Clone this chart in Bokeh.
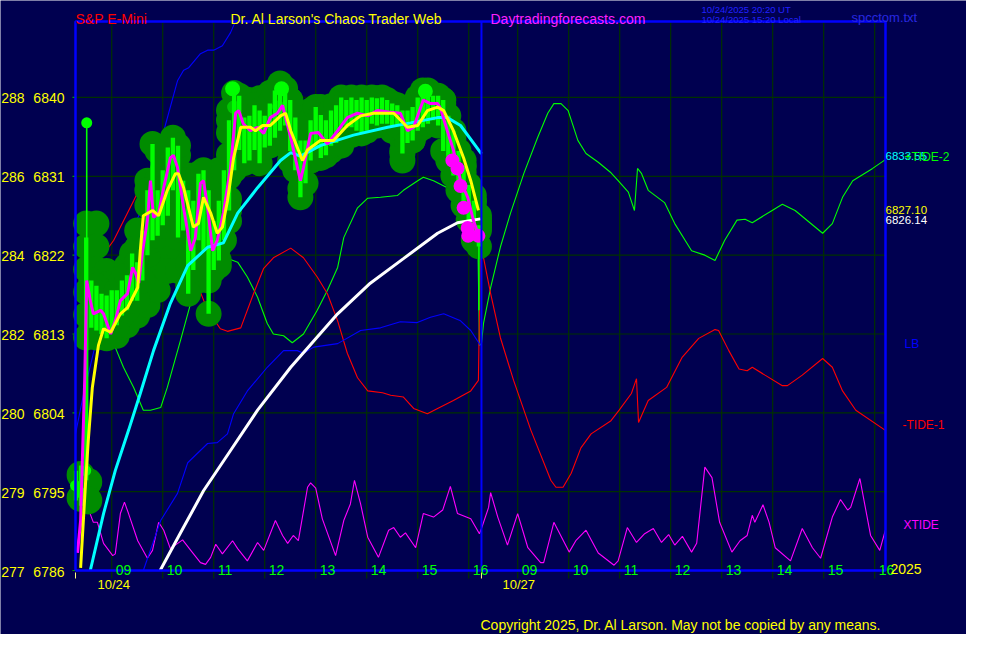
import numpy as np
from bokeh.plotting import figure
from bokeh.models import Range1d
from bokeh.embed import file_html
from bokeh.resources import INLINE
from bokeh.core.properties import value

# ---------------- data ----------------
price_levels = [6840, 6831, 6822, 6813, 6804, 6795, 6786]
alt_levels = ["288", "286", "284", "282", "280", "279", "277"]
hour_ticks = [9, 10, 11, 12, 13, 14, 15, 16]
hour_labels = ["09", "10", "11", "12", "13", "14", "15", "16"]
day_names = ["10/24", "10/27"]
year_label = "2025"
session_open = 8.29
session_close = 16.25
stamp_ut = "10/24/2025 20:20  UT"
stamp_local = "10/24/2025 15:20  Local"

# price bars (day 1), hours / high / low
bar_t = [8.3, 8.4, 8.5, 8.6, 8.7, 8.8, 8.9, 9.0, 9.1, 9.2, 9.3, 9.4, 9.5, 9.6, 9.7, 9.8, 9.9,
         10.0, 10.1, 10.2, 10.3, 10.4, 10.5, 10.6, 10.7, 10.8, 10.9, 11.0, 11.1, 11.2, 11.3, 11.4,
         11.5, 11.6, 11.7, 11.8, 11.9, 12.0, 12.1, 12.2, 12.3, 12.4, 12.5, 12.6, 12.7, 12.8, 12.9,
         13.0, 13.1, 13.2, 13.3, 13.4, 13.5, 13.6, 13.7, 13.8, 13.9, 14.0, 14.1, 14.2, 14.3, 14.4,
         14.5, 14.6, 14.7, 14.8, 14.9, 15.0, 15.1, 15.2, 15.3, 15.4, 15.5, 15.6, 15.7, 15.8, 15.9,
         16.0, 16.1, 16.2]
bar_hi = [6797.4, 6798.0, 6824.0, 6819.1, 6818.5, 6817.6, 6817.4, 6818.0, 6818.0, 6819.1, 6819.7,
          6822.2, 6821.2, 6824.8, 6829.4, 6834.7, 6829.4, 6831.7, 6834.3, 6835.4, 6834.5, 6830.5,
          6829.4, 6828.2, 6831.3, 6831.7, 6829.4, 6825.9, 6828.2, 6831.7, 6837.4, 6840.5, 6840.2,
          6837.7, 6837.9, 6839.1, 6838.5, 6837.9, 6839.3, 6840.8, 6841.6, 6841.0, 6839.7, 6837.7,
          6835.1, 6835.1, 6837.4, 6838.9, 6838.0, 6837.4, 6838.5, 6839.1, 6840.0, 6839.7, 6840.0,
          6839.7, 6840.0, 6839.7, 6840.0, 6839.9, 6840.0, 6839.7, 6839.3, 6839.1, 6838.5, 6838.5,
          6838.9, 6840.0, 6840.8, 6840.8, 6840.2, 6840.2, 6839.7, 6837.9, 6836.2, 6833.9, 6832.2,
          6830.0, 6828.2, 6825.4]
bar_lo = [6794.0, 6793.4, 6796.3, 6813.7, 6813.4, 6813.0, 6812.5, 6813.4, 6814.0, 6815.1, 6815.7,
          6816.8, 6816.8, 6819.1, 6822.0, 6823.7, 6824.2, 6825.4, 6826.5, 6829.4, 6824.0, 6824.8,
          6817.6, 6820.3, 6823.7, 6822.5, 6815.3, 6820.3, 6821.4, 6823.7, 6827.1, 6831.7, 6834.0,
          6832.5, 6832.8, 6834.0, 6832.5, 6834.3, 6834.5, 6835.4, 6836.2, 6836.8, 6833.9, 6831.7,
          6828.6, 6830.2, 6832.8, 6834.3, 6833.1, 6833.4, 6834.5, 6834.8, 6836.2, 6836.5, 6836.6,
          6836.2, 6835.9, 6836.2, 6837.0, 6836.8, 6837.0, 6837.0, 6836.8, 6836.8, 6833.6, 6834.8,
          6835.1, 6836.2, 6836.6, 6837.0, 6837.4, 6836.8, 6833.9, 6832.8, 6831.1, 6829.4, 6827.7,
          6826.0, 6823.7, 6823.0]
spike_t = [8.51, 16.2]
spike_hi = [6837.1, 6824.0]
spike_lo = [6797.0, 6815.7]

# dark green price envelope (centres of the upper and lower rows of discs)
band_t = [8.5, 8.7, 8.9, 9.1, 9.3, 9.5, 9.7, 9.9, 10.1, 10.3, 10.5, 10.7, 10.9, 11.1, 11.3, 11.5,
          11.7, 11.9, 12.1, 12.3, 12.5, 12.7, 12.9, 13.1, 13.3, 13.5, 13.7, 13.9, 14.1, 14.3, 14.5,
          14.7, 14.9, 15.1, 15.3, 15.5, 15.7, 15.9, 16.1, 16.2]
band_top = [6825.6, 6825.6, 6820.2, 6819.1, 6820.8, 6824.8, 6830.5, 6833.9, 6834.2, 6833.4, 6831.1,
            6831.1, 6831.1, 6831.7, 6838.5, 6839.7, 6839.7, 6839.9, 6840.5, 6840.8, 6839.7, 6837.4,
            6838.5, 6838.9, 6839.0, 6839.0, 6839.0, 6839.0, 6839.0, 6839.0, 6838.7, 6838.5, 6839.1,
            6840.1, 6840.1, 6839.7, 6835.9, 6832.8, 6828.8, 6826.5]
band_bot = [6812.6, 6812.6, 6812.6, 6812.8, 6814.0, 6815.1, 6816.3, 6818.0, 6820.2, 6820.2, 6818.5,
            6819.1, 6819.1, 6820.8, 6825.9, 6832.8, 6833.4, 6833.9, 6835.1, 6835.4, 6832.8, 6829.6,
            6832.8, 6833.4, 6833.9, 6834.5, 6835.7, 6836.8, 6837.4, 6837.4, 6836.2, 6832.8, 6835.1,
            6837.4, 6838.1, 6837.4, 6832.8, 6829.4, 6825.4, 6824.8]
open_t = [8.39, 8.54, 8.39, 8.54]
open_v = [6796.9, 6796.1, 6794.3, 6794.0]
bright_t = [11.37, 12.33, 15.15]
bright_v = [6841.0, 6841.0, 6840.7]
tick_dot_t = [8.51, 8.29, 8.49, 8.39]
tick_dot_v = [6837.1, 6795.7, 6797.4, 6794.9]
midg_t = [11.39, 12.27, 15.11]
midg_v = [6838.9, 6838.9, 6839.0]

# averages (day 1)
mag_t = [8.33, 8.39, 8.47, 8.51, 8.58, 8.64, 8.78, 8.84, 8.98, 9.07, 9.17, 9.31, 9.41, 9.47, 9.53,
         9.60, 9.70, 9.76, 9.82, 9.92, 10.02, 10.15, 10.21, 10.29, 10.41, 10.55, 10.64, 10.74,
         10.80, 10.88, 10.98, 11.07, 11.19, 11.33, 11.43, 11.49, 11.58, 11.72, 11.86, 11.98, 12.11,
         12.25, 12.35, 12.51, 12.70, 12.76, 12.90, 13.05, 13.23, 13.43, 13.62, 13.82, 14.02, 14.21,
         14.47, 14.66, 14.80, 14.92, 15.11, 15.25, 15.39, 15.45, 15.58, 15.70, 15.84, 15.98, 16.09,
         16.19]
mag_v = [6788.0, 6791.7, 6807.7, 6819.1, 6816.8, 6815.3, 6815.7, 6815.3, 6813.0, 6814.5, 6816.8,
         6817.6, 6820.6, 6819.9, 6818.8, 6822.2, 6826.0, 6830.5, 6826.3, 6826.8, 6829.7, 6833.1,
         6833.4, 6832.0, 6827.4, 6822.5, 6824.0, 6830.2, 6830.5, 6827.4, 6822.5, 6823.7, 6826.8,
         6832.0, 6838.2, 6838.5, 6837.0, 6836.2, 6836.6, 6835.9, 6837.7, 6838.2, 6839.1, 6835.4,
         6830.5, 6832.0, 6835.9, 6836.0, 6834.7, 6836.2, 6837.7, 6838.2, 6837.9, 6838.5, 6838.3,
         6838.2, 6836.2, 6836.6, 6839.7, 6839.3, 6839.3, 6838.7, 6836.2, 6834.0, 6830.5, 6828.6,
         6826.0, 6824.3]
dot_t = [15.68, 15.78, 15.84, 15.90, 15.98, 15.99, 16.19]
dot_v = [6832.8, 6831.9, 6829.9, 6827.4, 6825.1, 6824.2, 6824.2]
yel_t = [8.39, 8.49, 8.54, 8.62, 8.74, 8.84, 8.98, 9.17, 9.31, 9.51, 9.56, 9.62, 9.80, 9.92, 10.09,
         10.25, 10.31, 10.41, 10.60, 10.70, 10.80, 10.94, 11.07, 11.17, 11.27, 11.39, 11.53, 11.72,
         11.82, 11.96, 12.11, 12.31, 12.41, 12.51, 12.74, 12.84, 13.09, 13.35, 13.62, 13.88, 14.13,
         14.53, 14.80, 15.00, 15.19, 15.39, 15.51, 15.70, 15.90, 16.04, 16.19]
yel_v = [6786.3, 6796.3, 6800.8, 6806.9, 6811.7, 6813.6, 6813.2, 6815.3, 6816.0, 6818.3, 6822.5,
         6826.5, 6827.1, 6826.5, 6829.4, 6831.3, 6831.3, 6829.7, 6825.2, 6825.6, 6828.6, 6826.8,
         6824.5, 6825.2, 6828.2, 6833.1, 6836.6, 6836.6, 6836.2, 6836.8, 6836.8, 6837.9, 6838.2,
         6836.2, 6832.8, 6834.0, 6835.1, 6835.1, 6836.8, 6837.9, 6838.2, 6838.2, 6836.6, 6836.8,
         6838.5, 6838.9, 6838.5, 6836.2, 6833.1, 6830.5, 6827.10]
cyan_t = [8.58, 8.84, 9.07, 9.33, 9.56, 9.82, 10.15, 10.49, 10.88, 11.19, 11.47, 11.86, 12.31,
          12.51, 12.70, 13.09, 13.74, 14.41, 14.86, 15.39, 15.58, 15.84, 16.25]
cyan_v = [6786.0, 6792.5, 6797.4, 6802.0, 6806.2, 6811.1, 6816.5, 6820.8, 6822.9, 6823.4, 6826.8,
          6829.7, 6832.8, 6833.7, 6833.3, 6834.5, 6835.7, 6836.6, 6837.1, 6837.7, 6837.7, 6836.8,
          6833.55]
white_t = [9.95, 10.35, 10.80, 11.33, 11.86, 12.51, 13.43, 14.07, 14.72, 15.39, 15.78, 16.23]
white_v = [6786.0, 6790.3, 6795.1, 6799.7, 6804.3, 6809.2, 6815.3, 6818.8, 6821.6, 6824.5, 6825.7,
           6826.14]
blue_t = [8.29, 8.45, 8.92, 9.31, 9.76, 10.05, 10.29, 10.41, 10.51, 10.74, 10.88, 11.00, 11.17,
          11.33, 11.42]
blue_v = [6801.6, 6806.2, 6817.6, 6823.7, 6829.4, 6836.8, 6841.9, 6843.1, 6843.4, 6845.0, 6845.4,
          6845.4, 6845.9, 6847.4, 6848.6]
lb_t = [9.62, 9.96, 10.29, 10.49, 10.88, 11.07, 11.27, 11.39, 11.66, 12.05, 12.37, 12.64, 12.76,
        12.96, 13.43, 13.88, 14.27, 14.66, 14.99, 15.25, 15.51, 15.84, 16.04, 16.23]
lb_v = [6786.0, 6791.7, 6794.8, 6798.3, 6800.5, 6800.6, 6801.6, 6803.9, 6806.5, 6809.2, 6811.1,
        6811.1, 6810.8, 6811.5, 6811.9, 6813.4, 6813.7, 6814.4, 6814.3, 6814.9, 6815.3, 6814.5,
        6813.4, 6811.7]

# tides, day 1 (10/24) and day 2 (10/27), clock hours
green_t1 = [8.29, 8.58, 8.84, 9.04, 9.23, 9.43, 9.62, 9.76, 9.96, 10.09, 10.35, 10.60, 10.88, 11.07,
            11.29, 11.47, 11.66, 11.86, 12.05, 12.17, 12.37, 12.54, 12.76, 13.03, 13.23, 13.43,
            13.55, 13.82, 14.02, 14.27, 14.60, 14.72, 15.00, 15.11, 15.31, 15.58, 15.84, 16.04,
            16.17, 16.21]
green_v1 = [6817.4, 6815.3, 6813.7, 6811.9, 6809.2, 6806.9, 6804.3, 6804.3, 6804.6, 6806.9, 6812.3,
            6817.6, 6819.9, 6821.0, 6821.6, 6821.2, 6819.5, 6817.2, 6814.2, 6813.0, 6812.8, 6812.0,
            6813.0, 6815.7, 6818.0, 6820.6, 6824.0, 6827.4, 6828.5, 6828.6, 6828.8, 6829.4, 6830.5,
            6830.9, 6830.5, 6829.7, 6829.0, 6828.2, 6827.1, 6811.7]
green_t2 = [8.29, 8.33, 8.47, 8.66, 8.86, 9.12, 9.39, 9.59, 9.71, 9.85, 9.99, 10.18, 10.34, 10.58,
            10.83, 10.97, 11.17, 11.29, 11.35, 11.43, 11.56, 11.88, 12.08, 12.41, 12.67, 12.87,
            13.06, 13.30, 13.46, 13.60, 13.99, 14.19, 14.44, 14.98, 15.17, 15.37, 15.57, 15.96, 16.21]
green_v2 = [6811.9, 6814.2, 6818.3, 6822.9, 6826.8, 6831.3, 6835.4, 6838.2, 6839.3, 6839.3, 6838.5,
            6835.1, 6833.6, 6832.6, 6831.4, 6830.5, 6829.2, 6827.1, 6831.9, 6831.3, 6829.4, 6828.0,
            6825.6, 6822.5, 6822.0, 6821.4, 6823.7, 6826.0, 6826.1, 6825.7, 6827.1, 6827.8, 6827.1,
            6824.5, 6825.6, 6828.6, 6830.5, 6831.9, 6832.9]
red_t1 = [8.29, 8.58, 9.04, 9.43, 9.62, 9.82, 10.02, 10.29, 10.55, 10.88, 11.13, 11.27, 11.53, 11.78,
          11.98, 12.17, 12.51, 12.76, 13.03, 13.23, 13.43, 13.62, 13.82, 14.02, 14.31, 14.47, 14.72,
          14.92, 15.19, 15.39, 15.70, 16.04, 16.19, 16.23]
red_v1 = [6817.4, 6820.0, 6823.7, 6828.2, 6830.5, 6830.6, 6830.2, 6826.0, 6820.6, 6815.7, 6813.6,
          6813.3, 6813.7, 6817.6, 6820.5, 6821.7, 6822.8, 6821.7, 6819.5, 6817.6, 6814.5, 6810.8,
          6808.0, 6806.5, 6806.3, 6806.0, 6805.8, 6804.5, 6803.9, 6804.5, 6805.4, 6806.5, 6807.7,
          6823.3]
red_t2 = [8.29, 8.47, 8.66, 8.92, 9.26, 9.65, 9.75, 9.89, 10.05, 10.24, 10.44, 10.83, 10.99, 11.23,
          11.33, 11.37, 11.56, 11.92, 12.22, 12.55, 12.87, 12.94, 13.14, 13.34, 13.50, 13.60, 13.85,
          14.19, 14.29, 14.58, 14.98, 15.17, 15.37, 15.63, 16.21]
red_v2 = [6822.9, 6817.6, 6812.6, 6807.7, 6802.0, 6796.3, 6795.5, 6795.5, 6797.1, 6800.0, 6801.6,
          6803.1, 6804.3, 6806.2, 6807.9, 6802.9, 6805.4, 6806.9, 6810.3, 6812.5, 6813.5, 6813.4,
          6811.1, 6809.0, 6808.8, 6809.2, 6808.3, 6807.1, 6807.1, 6808.3, 6810.2, 6809.2, 6806.5,
          6804.3, 6802.0]
xt_t1 = [8.31, 8.35, 8.45, 8.53, 8.64, 8.72, 8.84, 9.02, 9.07, 9.17, 9.25, 9.33, 9.51, 9.70, 9.80,
         9.92, 10.02, 10.15, 10.39, 10.55, 10.74, 10.84, 10.94, 11.04, 11.17, 11.37, 11.47, 11.66,
         11.86, 11.98, 12.21, 12.35, 12.45, 12.56, 12.66, 12.84, 12.90, 13.00, 13.13, 13.39, 13.55,
         13.68, 13.76, 13.88, 14.02, 14.23, 14.43, 14.53, 14.66, 14.76, 14.96, 15.11, 15.31, 15.49,
         15.64, 15.78, 16.04, 16.21]
xt_v1 = [6788.1, 6789.7, 6792.5, 6793.2, 6791.5, 6791.5, 6789.1, 6787.7, 6787.9, 6792.5, 6793.8,
         6792.5, 6789.4, 6787.4, 6788.3, 6791.5, 6790.6, 6788.5, 6789.5, 6788.3, 6786.9, 6786.7,
         6787.5, 6789.0, 6787.9, 6789.4, 6788.5, 6787.1, 6789.2, 6788.3, 6791.7, 6790.0, 6789.1,
         6790.0, 6789.4, 6795.5, 6796.0, 6795.4, 6791.9, 6787.7, 6791.7, 6793.6, 6796.3, 6793.6,
         6789.8, 6787.5, 6790.6, 6790.9, 6789.8, 6790.3, 6788.6, 6792.5, 6792.1, 6792.9, 6795.6,
         6792.5, 6791.9, 6790.2]
xt_t2 = [8.29, 8.43, 8.47, 8.61, 8.80, 9.00, 9.20, 9.45, 9.51, 9.71, 10.01, 10.14, 10.34, 10.58,
         10.89, 10.97, 11.15, 11.33, 11.49, 11.66, 11.82, 11.96, 12.08, 12.23, 12.41, 12.51, 12.67,
         12.81, 12.96, 13.20, 13.36, 13.50, 13.60, 13.65, 13.81, 13.93, 14.05, 14.35, 14.58, 14.78,
         14.94, 15.17, 15.33, 15.47, 15.53, 15.71, 15.92, 16.10, 16.21]
xt_v2 = [6790.8, 6793.2, 6794.9, 6792.1, 6788.9, 6792.5, 6788.6, 6786.9, 6786.9, 6791.5, 6788.1,
         6789.4, 6790.6, 6788.0, 6786.6, 6787.1, 6790.9, 6789.2, 6790.2, 6790.8, 6789.2, 6790.1,
         6788.9, 6789.9, 6788.1, 6789.1, 6797.8, 6796.6, 6791.5, 6788.1, 6789.4, 6790.0, 6792.3,
         6791.5, 6793.5, 6791.5, 6788.6, 6787.1, 6790.8, 6788.6, 6787.4, 6792.1, 6794.1, 6792.9,
         6793.2, 6796.5, 6790.0, 6788.3, 6790.6]

# ---------------- layout ----------------
W, H = 966, 634
PXH = 51.0            # pixels per hour
PXP = 8.76            # pixels per index point
BOX_L, BOX_T, BOX_R, BOX_B = 75, 21, 885, 570
y0 = price_levels[-1]
x_start = session_open - BOX_L / PXH
x_end = x_start + W / PXH
y_start = y0 - (H - BOX_B) / PXP
y_end = y_start + H / PXP
x_right = session_open + (BOX_R - BOX_L) / PXH
y_top = y0 + (BOX_B - BOX_T) / PXP
day2 = session_close - session_open


def sx(px):
    return x_start + px / PXH


def sy(py):
    return y_end - py / PXP


def dx(n):
    return n / PXH


def dy(n):
    return n / PXP


def join(t1, v1, t2, v2):
    return list(t1) + [t + day2 for t in t2], list(v1) + list(v2)


BG = "#000050"
GRID = "#003000"
FONT = value("Liberation Sans")

p = figure(width=W, height=H, x_range=Range1d(x_start, x_end), y_range=Range1d(y_start, y_end),
           output_backend="svg", toolbar_location=None, min_border=0,
           x_axis_type=None, y_axis_type=None)
p.outline_line_color = None
p.background_fill_color = BG
p.border_fill_color = BG


def put(xs, ys, texts, color, size, align="left", baseline="alphabetic"):
    p.text(x=xs, y=ys, text=texts, text_color=color, text_font=FONT, text_font_size=size,
           text_align=align, text_baseline=baseline)


# grid
vx = list(hour_ticks) + [h + day2 for h in hour_ticks]
p.segment(x0=vx, y0=[y_top] * len(vx), x1=vx, y1=[y0 - dy(8)] * len(vx),
          line_color=GRID, line_width=1.2)
hy = price_levels[:-1]
p.segment(x0=[session_open] * len(hy), y0=hy, x1=[x_right] * len(hy), y1=hy,
          line_color=GRID, line_width=1.2)
p.segment(x0=[session_open - dx(3)] * len(price_levels), y0=price_levels,
          x1=[session_open] * len(price_levels), y1=price_levels, line_color="#00A000", line_width=1.2)

# tides
gx, gy = join(green_t1, green_v1, green_t2, green_v2)
p.line(gx, gy, line_color="#00FF00", line_width=1.1)
rx, ry = join(red_t1, red_v1, red_t2, red_v2)
p.line(rx, ry, line_color="#FF0000", line_width=1.1)
xx, xy = join(xt_t1, xt_v1, xt_t2, xt_v2)
p.line(xx, xy, line_color="#FF00FF", line_width=1.1)
p.line(blue_t, blue_v, line_color="#0000FF", line_width=1.1)
p.line(lb_t, lb_v, line_color="#0000FF", line_width=1.1)

# price envelope
cx, cy = [], []
for t, a, b in zip(band_t, band_top, band_bot):
    for v in np.linspace(a, b, 6):
        cx.append(t)
        cy.append(v)
for t, a, b in zip(bar_t, bar_hi, bar_lo):
    if t > 8.55:
        cx += [t, t]
        cy += [a, b]
p.scatter(cx, cy, size=26, marker="circle", fill_color="#008C00", line_color=None)
p.scatter(open_t, open_v, size=28, marker="circle", fill_color="#008C00", line_color=None)
p.scatter(midg_t, midg_v, size=13, marker="circle", fill_color="#00C800", line_color=None)

# price bars
p.vbar(x=bar_t, top=bar_hi, bottom=bar_lo, width=0.085, fill_color="#00FF00", line_color=None)
p.segment(x0=spike_t, y0=spike_hi, x1=spike_t, y1=spike_lo, line_color="#00FF00", line_width=1.6)
p.scatter(bright_t, bright_v, size=15, marker="circle", fill_color="#00FF00", line_color=None)
p.scatter(tick_dot_t, tick_dot_v, size=11, marker="circle", fill_color="#00FF00", line_color=None)

# averages
p.line(white_t, white_v, line_color="#FFFFFF", line_width=3)
p.line(cyan_t, cyan_v, line_color="#00FFFF", line_width=3)
p.line(mag_t, mag_v, line_color="#FF00FF", line_width=3)
p.line(yel_t, yel_v, line_color="#FFFF00", line_width=3)
p.scatter(dot_t, dot_v, size=14, marker="circle", fill_color="#FF00FF", line_color=None)

# frame
p.line([session_open, x_right, x_right, session_open, session_open], [y0, y0, y_top, y_top, y0],
       line_color="#0000FF", line_width=2.5)
p.segment(x0=[session_close], y0=[y0], x1=[session_close], y1=[y_top],
          line_color="#0000FF", line_width=2)
dstarts = [session_open, session_open + day2]
p.segment(x0=dstarts, y0=[y0 - dy(2)] * 2, x1=dstarts, y1=[y0 - dy(8)] * 2,
          line_color="#FFFF80", line_width=1)

# texts
put([sx(75)], [sy(18)], ["S&P E-Mini"], "#FF0000", "14px")
put([sx(230)], [sy(18)], ["Dr. Al Larson's Chaos Trader Web"], "#FFFF00", "14px")
put([sx(490)], [sy(18)], ["Daytradingforecasts.com"], "#FF20FF", "14px")
put([sx(701), sx(701)], [sy(9), sy(19)], [stamp_ut, stamp_local], "#2020FF", "9.5px")
put([sx(851)], [sy(17)], ["spcctom.txt"], "#2828E0", "13px")
put([sx(64)] * len(price_levels), [v - dy(1) for v in price_levels],
    [str(v) for v in price_levels], "#FFFF00", "14px", align="right")
put([sx(24)] * len(alt_levels), [v - dy(1) for v in price_levels], alt_levels, "#FFFF00", "14px",
    align="right")
put([h + dx(4) for h in vx], [y0 + dy(1)] * len(vx), hour_labels * 2, "#00FF00", "14px")
put([dstarts[0] + dx(22), dstarts[1] + dx(21)], [y0 - dy(14)] * 2, day_names, "#FFFF00", "13px")
put([x_right + dx(5)], [y0 + dy(2)], [year_label], "#FFFF00", "14px")
put([sx(480)], [sy(624)], ["Copyright 2025, Dr. Al Larson. May not be copied by any means."],
    "#FFFF00", "14px")
put([x_right], [cyan_v[-1] - dy(2)], [f"{cyan_v[-1]:.2f}"], "#00FFFF", "11.5px")
put([x_right], [yel_v[-1]], [f"{yel_v[-1]:.2f}"], "#FFFF00", "11.5px")
put([x_right], [white_v[-1] - dy(1)], [f"{white_v[-1]:.2f}"], "#FFFFFF", "11.5px")
put([x_right + dx(19)], [green_v2[-1] + dy(3)], ["+TIDE-2"], "#00FF00", "12px", baseline="middle")
put([x_right + dx(19)], [lb_v[-1] + dy(1)], ["LB"], "#0000FF", "12px", baseline="middle")
put([x_right + dx(17)], [red_v2[-1] + dy(5)], ["-TIDE-1"], "#FF0000", "12px", baseline="middle")
put([x_right + dx(18)], [xt_v2[-1] + dy(5)], ["XTIDE"], "#FF00FF", "12px", baseline="middle")

open("out.html", "w").write(file_html(p, INLINE))
